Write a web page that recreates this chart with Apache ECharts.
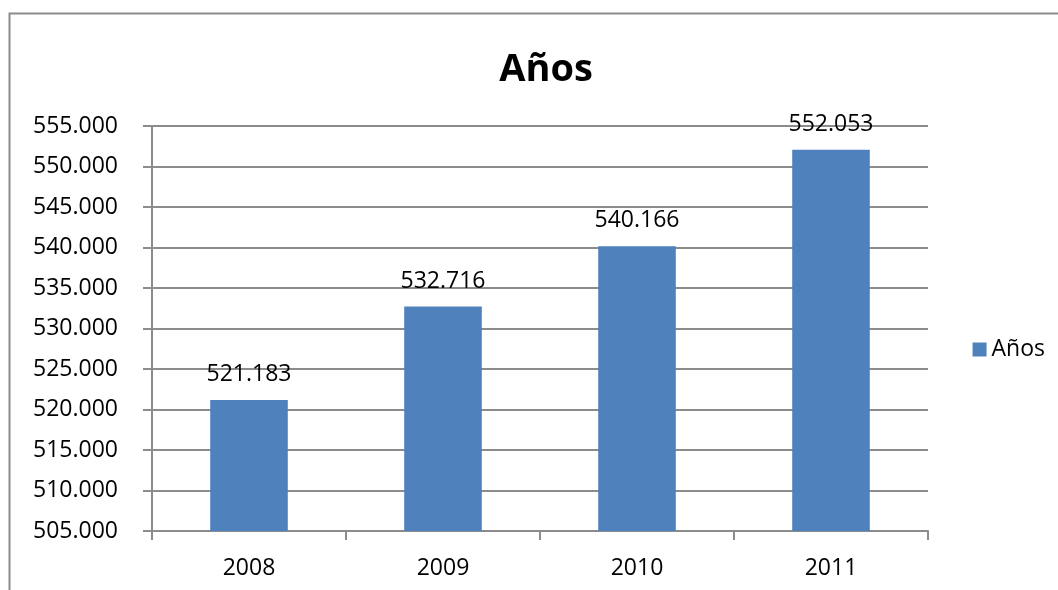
<!DOCTYPE html>
<html>
<head>
<meta charset="utf-8">
<script src="https://cdn.jsdelivr.net/npm/echarts@6/dist/echarts.min.js"></script>
<style>
  html, body { margin: 0; padding: 0; background: #fff; }
  #main { width: 1058px; height: 590px; }
</style>
</head>
<body>
<div id="main"></div>
<script>
var years = ['2008', '2009', '2010', '2011'];
var valores = [521183, 532716, 540166, 552053];
var serieNombre = 'Años';

// 521183 -> "521.183"
function miles(v) {
    return String(v).replace(/\B(?=(\d{3})+(?!\d))/g, '.');
}

var fuente = '"Open Sans", "Noto Sans", sans-serif';
var gris = '#8c8c8c';

var myChart = echarts.init(document.getElementById('main'));
var option = {
    animation: false,
    textStyle: { fontFamily: fuente },
    title: {
        text: 'Años',
        left: 541,
        top: 46,
        textAlign: 'center',
        textStyle: { fontSize: 38, fontWeight: 'bold', color: '#000', fontFamily: fuente }
    },
    graphic: [{
        type: 'rect',
        shape: { x: 9.5, y: 13.5, width: 1100, height: 700 },
        style: { fill: 'none', stroke: gris, lineWidth: 2 },
        silent: true
    }],
    legend: {
        data: [serieNombre],
        right: 8,
        top: 333,
        icon: 'rect',
        itemWidth: 14,
        itemHeight: 14,
        itemGap: 6,
        textStyle: { fontSize: 23, color: '#000', fontFamily: fuente }
    },
    grid: { left: 152, right: 130, top: 126, bottom: 59 },
    xAxis: {
        type: 'category',
        data: years,
        axisLine: { lineStyle: { color: gris, width: 2 } },
        axisTick: { show: true, length: 9, lineStyle: { color: gris, width: 2 } },
        axisLabel: { color: '#000', fontSize: 23, margin: 26 }
    },
    yAxis: {
        type: 'value',
        min: 505000,
        max: 555000,
        interval: 5000,
        axisLine: { show: true, lineStyle: { color: gris, width: 2 } },
        axisTick: { show: true, length: 9, lineStyle: { color: gris, width: 2 } },
        axisLabel: { color: '#000', fontSize: 23, margin: 34, formatter: miles },
        splitLine: { lineStyle: { color: gris, width: 2 } }
    },
    series: [{
        name: serieNombre,
        type: 'bar',
        data: valores,
        barWidth: '40%',
        itemStyle: { color: '#4f81bd' },
        label: {
            show: true,
            position: 'top',
            distance: 14,
            color: '#000',
            fontSize: 23,
            formatter: function (p) { return miles(p.value); }
        }
    }]
};
myChart.setOption(option);
</script>
</body>
</html>
